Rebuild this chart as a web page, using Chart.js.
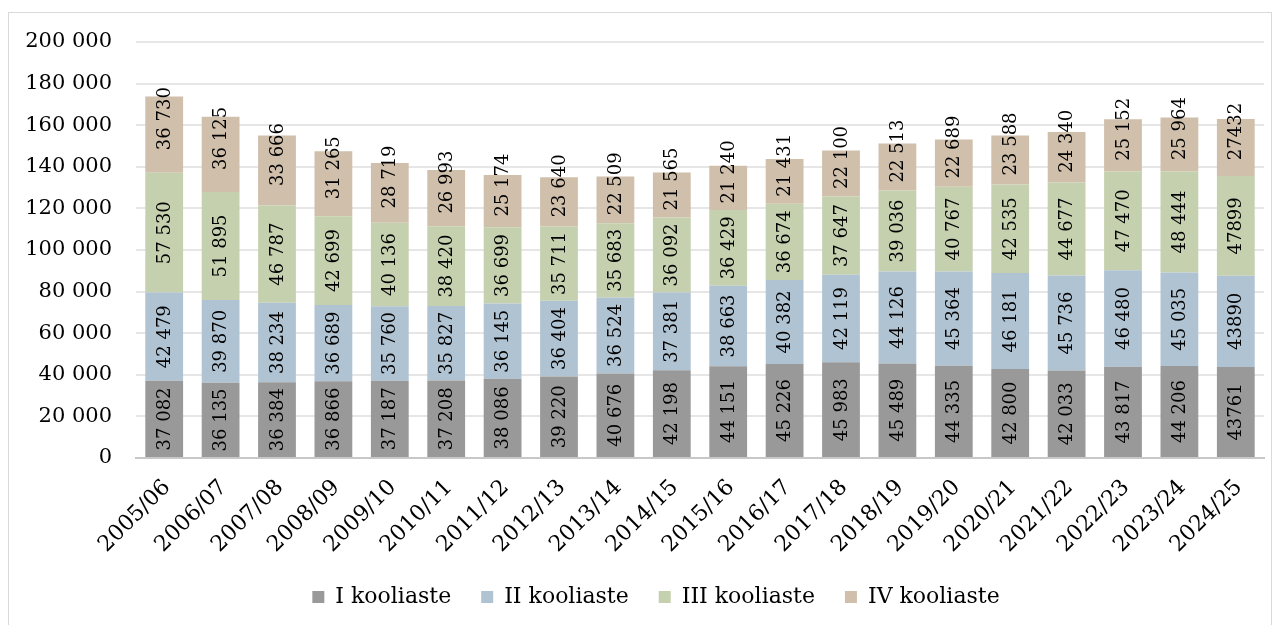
<!DOCTYPE html>
<html>
<head>
<meta charset="utf-8">
<script src="https://cdn.jsdelivr.net/npm/chart.js@4.4.1/dist/chart.umd.min.js"></script>
<style>
    html, body { margin: 0; padding: 0; background: #fff; overflow: hidden; }
    #frame {
        position: absolute; left: 8px; top: 12px; width: 1264px; height: 700px;
        border: 1px solid #d9d9d9; box-sizing: border-box;
    }
    #wrap { position: absolute; left: 0; top: 0; width: 1282px; height: 618px; }
</style>
</head>
<body>
<div id="frame"></div>
<div id="wrap"><canvas id="koolChart"></canvas></div>
<script>
// Categories (school years)
const categories = [
    '2005/06', '2006/07', '2007/08', '2008/09', '2009/10', '2010/11', '2011/12',
    '2012/13', '2013/14', '2014/15', '2015/16', '2016/17', '2017/18', '2018/19',
    '2019/20', '2020/21', '2021/22', '2022/23', '2023/24', '2024/25'
];

// Pupils per school stage
const koolI = [37082, 36135, 36384, 36866, 37187, 37208, 38086, 39220, 40676, 42198,
    44151, 45226, 45983, 45489, 44335, 42800, 42033, 43817, 44206, 43761];
const koolII = [42479, 39870, 38234, 36689, 35760, 35827, 36145, 36404, 36524, 37381,
    38663, 40382, 42119, 44126, 45364, 46181, 45736, 46480, 45035, 43890];
const koolIII = [57530, 51895, 46787, 42699, 40136, 38420, 36699, 35711, 35683, 36092,
    36429, 36674, 37647, 39036, 40767, 42535, 44677, 47470, 48444, 47899];
const koolIV = [36730, 36125, 33666, 31265, 28719, 26993, 25174, 23640, 22509, 21565,
    21240, 21431, 22100, 22513, 22689, 23588, 24340, 25152, 25964, 27432];

const seriesNames = ['I kooliaste', 'II kooliaste', 'III kooliaste', 'IV kooliaste'];

// Y axis range
const yMax = 200000;
const yStep = 20000;

// Labels in these categories are written without a thousands gap
const plainLabelCategories = ['2024/25'];

const colors = ['#999999', '#b0c3d2', '#c4d0ae', '#cfbfab'];
const fontFamily = '"DejaVu Serif", serif';

function withSpaces(v) {
    return String(v).replace(/\B(?=(\d{3})+(?!\d))/g, ' ');
}

// Draws the vertical value labels inside the bars
const barLabels = {
    id: 'barLabels',
    afterDatasetsDraw(chart) {
        const ctx = chart.ctx;
        ctx.save();
        ctx.font = '18px ' + fontFamily;
        ctx.fillStyle = '#000';
        ctx.textAlign = 'center';
        ctx.textBaseline = 'middle';
        chart.data.datasets.forEach((ds, di) => {
            const meta = chart.getDatasetMeta(di);
            meta.data.forEach((bar, i) => {
                const p = bar.getProps(['x', 'y', 'base'], true);
                const value = ds.data[i];
                const text = plainLabelCategories.includes(categories[i]) ? String(value) : withSpaces(value);
                const shift = di === 3 ? 16 : 0;
                ctx.save();
                ctx.translate(p.x, (p.y + p.base) / 2 - shift);
                ctx.rotate(-Math.PI / 2);
                ctx.fillText(text, 0, 1);
                ctx.restore();
            });
        });
        ctx.restore();
    }
};

// Slanted category labels under the axis (45 degrees, ending at the bar)
const slantedLabels = {
    id: 'slantedLabels',
    afterDraw(chart) {
        const ctx = chart.ctx;
        const xScale = chart.scales.x;
        ctx.save();
        ctx.font = '22px ' + fontFamily;
        ctx.fillStyle = '#000';
        ctx.textAlign = 'right';
        ctx.textBaseline = 'middle';
        chart.data.labels.forEach((label, i) => {
            ctx.save();
            ctx.translate(xScale.getPixelForValue(i) + 3, chart.chartArea.bottom + 26);
            ctx.rotate(-Math.PI / 4);
            ctx.fillText(label, 0, 0);
            ctx.restore();
        });
        ctx.restore();
    }
};

// Legend sits a bit right of the canvas centre in the original
const legendShift = {
    id: 'legendShift',
    afterLayout(chart) {
        chart.legend.left += 24;
        chart.legend.right += 24;
    }
};

function initKoolChart() {
    const values = [koolI, koolII, koolIII, koolIV];

    new Chart(document.getElementById('koolChart'), {
        type: 'bar',
        data: {
            labels: categories,
            datasets: values.map((arr, i) => ({
                label: seriesNames[i],
                data: arr,
                backgroundColor: colors[i],
                borderWidth: 0,
                categoryPercentage: 1,
                barPercentage: 0.67
            }))
        },
        options: {
            responsive: true,
            maintainAspectRatio: false,
            animation: false,
            layout: { padding: { top: 42, right: 18, left: 0, bottom: 0 } },
            plugins: {
                tooltip: { enabled: false },
                legend: {
                    position: 'bottom',
                    labels: {
                        boxWidth: 12,
                        boxHeight: 12,
                        padding: 30,
                        color: '#000',
                        font: { family: fontFamily, size: 22 }
                    }
                }
            },
            scales: {
                x: {
                    stacked: true,
                    grid: { display: false, drawTicks: false },
                    border: { display: true, color: '#c8c8c8', width: 2 },
                    ticks: { display: false },
                    afterFit(scale) { scale.height = 98; }
                },
                y: {
                    stacked: true,
                    min: 0,
                    max: yMax,
                    grid: {
                        drawTicks: false,
                        lineWidth: 2,
                        color: ctx => ctx.tick && ctx.tick.value === 0 ? '#c8c8c8' : '#e6e6e6'
                    },
                    border: { display: false },
                    ticks: {
                        stepSize: yStep,
                        color: '#000',
                        padding: 24,
                        font: { family: fontFamily, size: 21 },
                        callback: v => withSpaces(v)
                    },
                    afterFit(scale) { scale.width = 136; }
                }
            }
        },
        plugins: [barLabels, slantedLabels, legendShift]
    });
}

document.addEventListener('DOMContentLoaded', initKoolChart);
</script>
</body>
</html>
